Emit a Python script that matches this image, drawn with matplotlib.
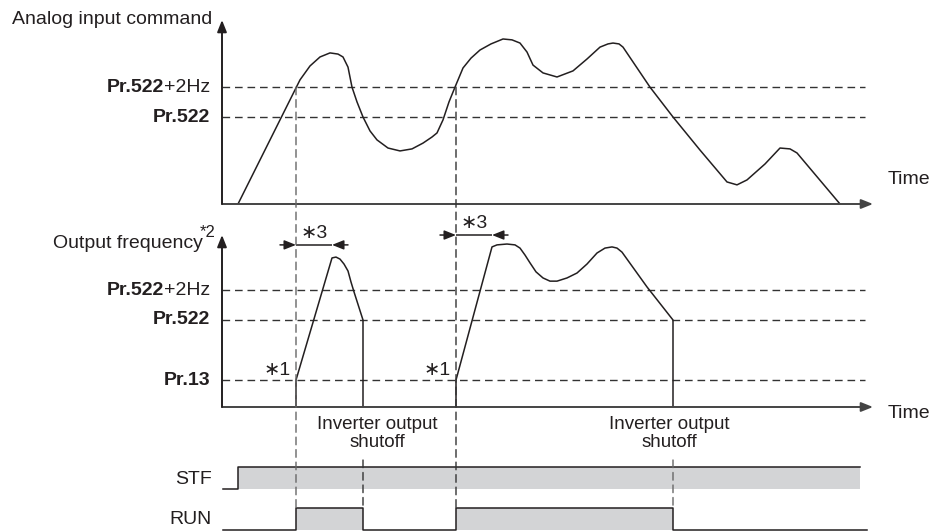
"""
Analog input command / output frequency timing chart (Pr.522 output stop)
"""
import numpy as np
import matplotlib.pyplot as plt
from matplotlib.patches import ConnectionPatch

plt.rcParams['font.family'] = ['Liberation Sans', 'DejaVu Sans']

# levels, arbitrary units
pr13 = 9.3
pr522 = 30.0
pr522_2hz = 40.3

# analog input command (time, level)
cmd_t = [1.6, 7.8, 8.8, 9.8, 10.8, 11.6, 12.1, 12.6, 13.0, 13.5, 14.1, 14.8, 15.5,
         16.6, 17.8, 19.0, 20.1, 21.0, 21.5, 22.1, 22.7, 23.3, 24.1, 24.9, 25.8,
         26.9, 28.1, 29.0, 29.8, 30.5, 31.1, 32.1, 33.5, 35.1, 36.5, 37.8, 38.6,
         39.1, 39.7, 40.1, 42.8, 45.1, 47.8, 50.5, 51.5, 52.5, 54.3, 55.8, 56.8,
         57.5, 61.8]
cmd_v = [0.0, 42.8, 47.6, 50.7, 52.1, 51.7, 50.7, 47.2, 40.3, 35.2, 30.0, 25.2, 22.1,
         19.3, 18.3, 19.0, 21.0, 23.1, 24.5, 29.0, 35.2, 40.3, 46.9, 50.3, 53.1,
         55.2, 56.9, 56.6, 55.5, 52.4, 47.9, 45.2, 43.8, 45.9, 50.0, 54.1, 55.2,
         55.5, 55.2, 54.1, 40.3, 30.0, 18.6, 7.6, 6.6, 8.3, 13.8, 19.3, 19.0,
         17.6, 0.0]

# output frequency, first run
out1_t = [7.4, 7.4, 11.0, 11.4, 11.8, 12.2, 12.6, 12.9, 13.2, 14.1, 14.1]
out1_v = [0.0, 9.3, 51.4, 51.7, 51.0, 49.3, 46.9, 43.1, 39.7, 30.0, 0.0]

# output frequency, second run
out2_t = [23.4, 23.4, 27.0, 27.5, 28.5, 29.3, 29.8, 30.3, 30.8, 31.4, 32.1, 32.8,
          33.5, 34.5, 35.5, 36.5, 37.5, 38.3, 39.0, 39.5, 40.0, 42.5, 45.1, 45.1]
out2_v = [0.0, 9.3, 55.2, 55.9, 56.2, 55.9, 54.8, 52.4, 49.7, 46.6, 44.5, 43.4,
          43.4, 44.5, 46.2, 49.3, 53.1, 54.8, 55.2, 54.8, 53.4, 41.4, 30.0, 0.0]

# events
t_on1, t_acc1, t_off1 = 7.4, 11.0, 14.1
t_on2, t_acc2, t_off2 = 23.4, 27.0, 45.1

# signals
stf_edges = [0.1, 1.6, 63.8]
stf_levels = [0, 1]
run_edges = [0.1, 7.4, 14.1, 23.4, 45.1, 64.5]
run_levels = [0, 1, 0, 1, 0]

W, H = 933, 532
PX_T, PX_V = 10.0, 2.9
T_END = 65.1
T_DASH = 64.3
INK = '#231f20'
GRAY = '#d3d4d6'
DASH = (0, (5.5, 3.5))

fig = plt.figure(figsize=(W / 100, H / 100), dpi=100)


def panel(y_top, y_base):
    ax = fig.add_axes([222 / W, (H - y_base) / H, 651 / W, (y_base - y_top) / H])
    ax.set_xlim(0, T_END)
    ax.set_ylim(0, (y_base - y_top) / PX_V)
    ax.axis('off')
    return ax


ax1 = panel(20, 204)
ax2 = panel(235, 407)
ax3 = fig.add_axes([222 / W, 0, 651 / W, 80 / H])
ax3.set_xlim(0, T_END)
ax3.set_ylim(0, 4)
ax3.axis('off')

arrow = dict(arrowstyle='-|>,head_length=0.7,head_width=0.28', color=INK, lw=1.4,
             shrinkA=0, shrinkB=0, mutation_scale=10)
for ax, y_time in ((ax1, 8.6), (ax2, -2.2)):
    ymax = ax.get_ylim()[1]
    ax.annotate('', xy=(T_END, 0), xytext=(0, 0), arrowprops=dict(arrow, color='#444'),
                annotation_clip=False)
    ax.annotate('', xy=(0, ymax), xytext=(0, 0), arrowprops=arrow, annotation_clip=False)
    ax.text(66.6, y_time, 'Time', fontsize=14, color=INK, ha='left', va='center')

# level lines
ax1.hlines([pr522_2hz, pr522], 0, T_DASH, colors='#333', lw=1.0, linestyles=DASH)
ax2.hlines([pr522_2hz, pr522, pr13], 0, T_DASH, colors='#333', lw=1.0, linestyles=DASH)

ax1.plot(cmd_t, cmd_v, color=INK, lw=1.1)
ax2.plot(out1_t, out1_v, color=INK, lw=1.1)
ax2.plot(out2_t, out2_v, color=INK, lw=1.1)


def two_part(ax, y, bold, rest):
    t = ax.text(-1.2, y, rest, fontsize=14, color=INK, ha='right', va='center')
    ax.annotate(bold, xy=(0, 0), xycoords=t, fontsize=14, fontweight='bold', color=INK,
                ha='right', va='bottom')


two_part(ax1, pr522_2hz, 'Pr.522', '+2Hz')
ax1.text(-1.2, pr522, 'Pr.522', fontsize=14, fontweight='bold', color=INK, ha='right', va='center')
two_part(ax2, pr522_2hz, 'Pr.522', '+2Hz')
ax2.text(-1.2, pr522, 'Pr.522', fontsize=14, fontweight='bold', color=INK, ha='right', va='center')
ax2.text(-1.2, pr13, 'Pr.13', fontsize=14, fontweight='bold', color=INK, ha='right', va='center')

ax1.text(-21.0, ax1.get_ylim()[1], 'Analog input command', fontsize=14, color=INK,
         ha='left', va='center')
ax2.text(-1.9, ax2.get_ylim()[1] - 3.0, 'Output frequency', fontsize=14, color=INK,
         ha='right', va='center')
ax2.text(-2.2, ax2.get_ylim()[1] + 0.8, '*2', fontsize=12, color=INK, ha='left', va='center')

# vertical guides
def vdash(t, axA, vA, axB, vB, color='#333'):
    fig.add_artist(ConnectionPatch(xyA=(t, vA), coordsA='data', axesA=axA,
                                   xyB=(t, vB), coordsB='data', axesB=axB,
                                   color=color, lw=1.0, ls=DASH))


vdash(t_on1, ax1, pr522_2hz, ax3, 1.2, '#666')
vdash(t_on2, ax1, pr522_2hz, ax3, 1.2)
for t_off, c in ((t_off1, '#333'), (t_off2, '#666')):
    vdash(t_off, ax1, pr522, ax2, -1.4, c)
    vdash(t_off, ax3, 3.6, ax3, 1.2, c)
vdash(t_acc1, ax2, 51.4, ax2, -1.4)
vdash(t_acc2, ax2, 55.2, ax2, -1.4)

# *3 dimension arrows
dim = dict(arrowstyle='-|>,head_length=0.7,head_width=0.28', color=INK, lw=1.1,
           shrinkA=0, shrinkB=0, mutation_scale=10)
for t_a, t_b, y in ((t_on1, t_acc1, 55.9), (t_on2, t_acc2, 59.3)):
    ax2.annotate('', xy=(t_a, y), xytext=(t_a - 1.6, y), arrowprops=dim, annotation_clip=False)
    ax2.annotate('', xy=(t_b, y), xytext=(t_b + 1.6, y), arrowprops=dim, annotation_clip=False)
    ax2.hlines(y, t_a, t_b, color=INK, lw=1.1, clip_on=False)
    ax2.text((t_a + t_b) / 2, y + 1.0, '\u22173', fontsize=14, color=INK,
             ha='center', va='bottom', clip_on=False)

for t_a in (t_on1, t_on2):
    ax2.text(t_a - 0.5, pr13 + 3.4, '\u22171', fontsize=14, color=INK, ha='right', va='center')

for t_txt in (15.5, 44.7):
    ax2.text(t_txt, -3.0, 'Inverter output\nshutoff', fontsize=13.5, color=INK,
             ha='center', va='top', linespacing=1.1)

# STF / RUN
for edges, levels, base, name in ((stf_edges, stf_levels, 2.15, 'STF'),
                                  (run_edges, run_levels, 0.1, 'RUN')):
    lv = np.r_[levels, levels[-1]]
    ax3.fill_between(edges, base, base + 1.1 * lv, step='post', color=GRAY, lw=0)
    ax3.plot(edges, base + 1.1 * lv, drawstyle='steps-post', color=INK, lw=1.1)
    ax3.text(-1.0, base + 0.5, name, fontsize=14, color=INK, ha='right', va='center')

fig.savefig('out.png', dpi=100)
